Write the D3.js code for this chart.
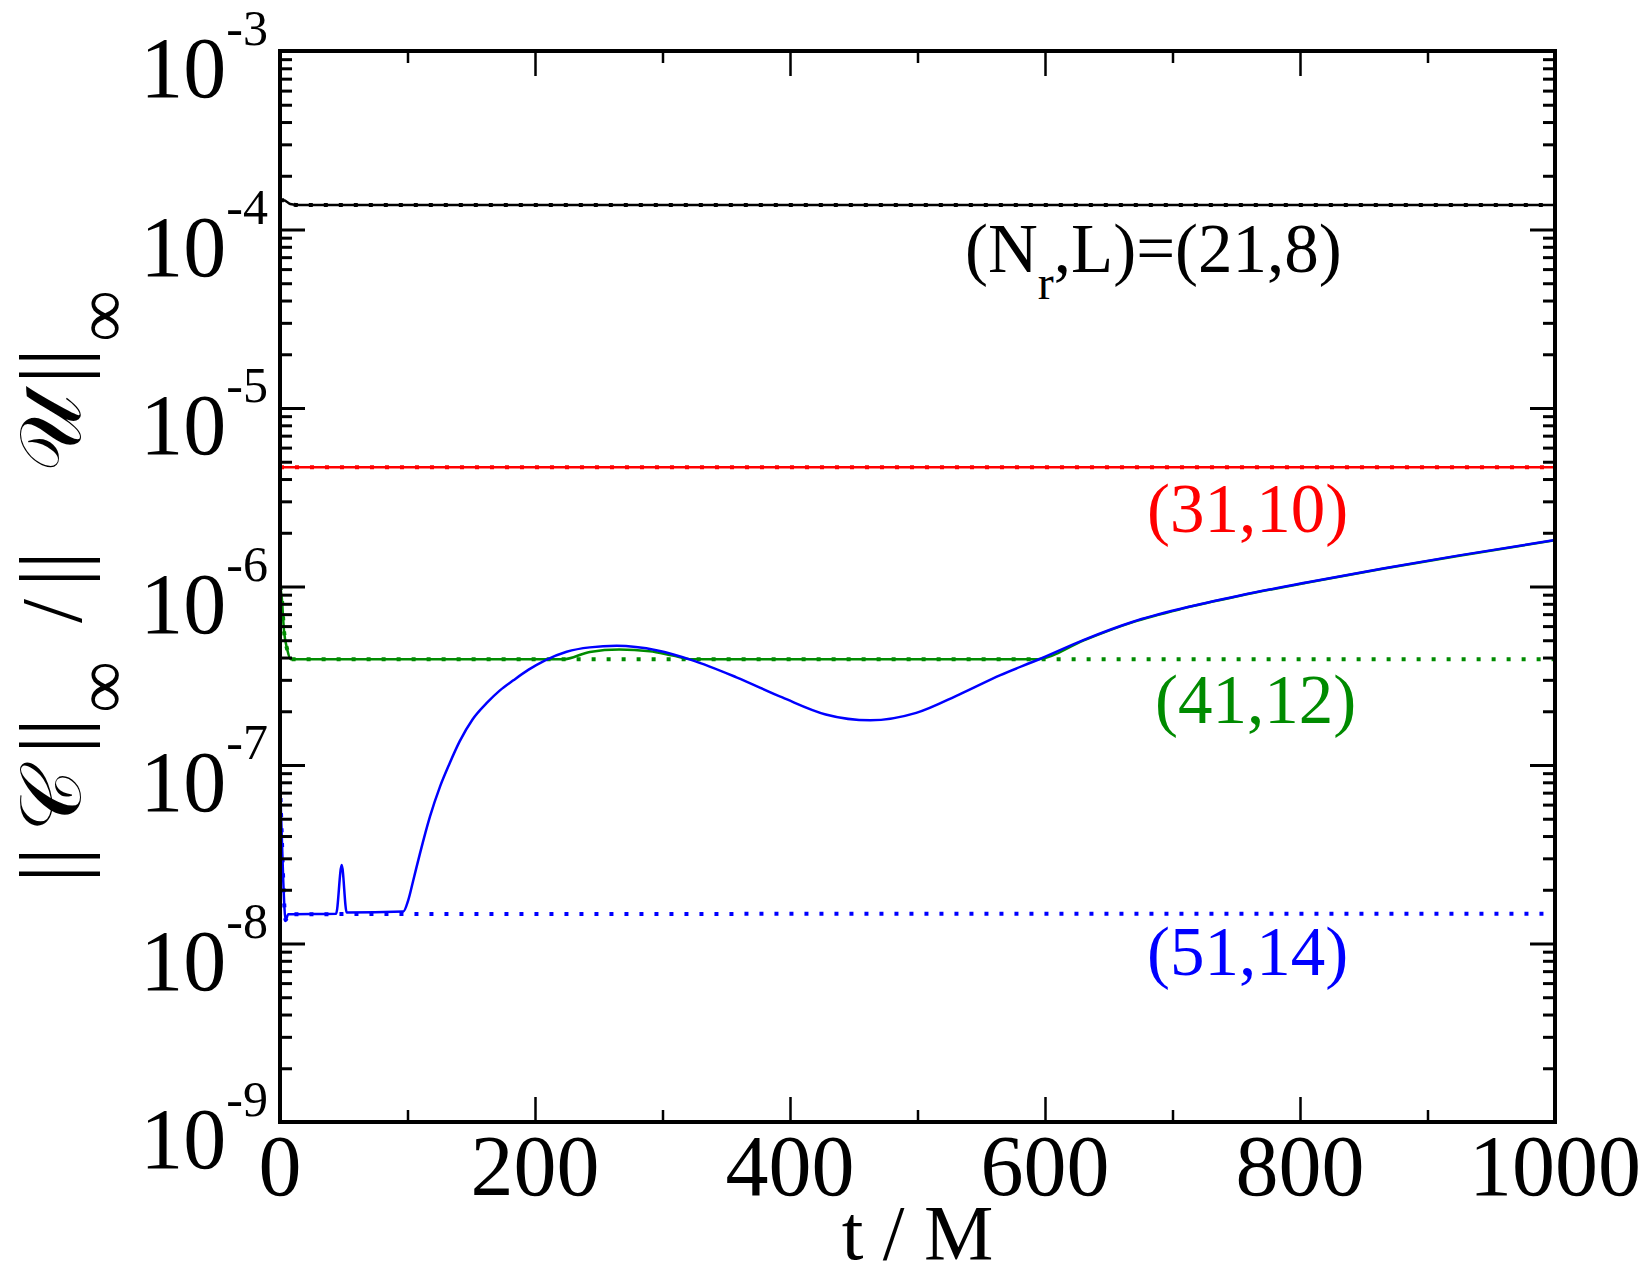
<!DOCTYPE html>
<html>
<head>
<meta charset="utf-8">
<title>constraint norm</title>
<style>
    body { margin: 0; background: #fff; }
    text { font-family: "Liberation Serif", "Times New Roman", serif; }
</style>
<script src="https://d3js.org/d3.v7.min.js"></script>
</head>
<body>
<script>

    // ---- data (t in M, value of the norm) ----
    let xMajor = [0, 200, 400, 600, 800, 1000];
    let xMinor = [100, 300, 500, 700, 900];
    let yExponents = [-9, -8, -7, -6, -5, -4, -3];

    let blackSolid = [[0, 1.46e-4], [3, 1.46e-4], [8, 1.39e-4], [15, 1.37e-4], [1000, 1.37e-4]];
    let blackDotted = [[0, 1.46e-4], [3, 1.46e-4], [8, 1.39e-4], [15, 1.37e-4], [1000, 1.37e-4]];

    let redSolid = [[0, 4.65e-6], [1000, 4.65e-6]];
    let redDotted = [[0, 4.65e-6], [1000, 4.65e-6]];

    let greenSolid = [[0, 1.0e-6], [1.3, 8.8e-7], [3.1, 5.7e-7], [5.8, 4.4e-7], [8.4, 3.91e-7],
        [222, 3.91e-7], [243, 4.3e-7], [266, 4.43e-7], [290, 4.34e-7],
        [308, 4.1e-7], [323, 3.91e-7], [593, 3.91e-7], [596, 3.92e-7], [630, 4.98e-7],
        [669, 6.32e-7], [708, 7.52e-7], [753, 8.87e-7], [805, 1.05e-6], [865, 1.257e-6],
        [925, 1.488e-6], [1000, 1.815e-6]];
    let greenDotted = [[0, 1.0e-6], [1.3, 8.8e-7], [3.1, 5.7e-7], [5.8, 4.4e-7], [8.4, 3.91e-7], [1000, 3.91e-7]];

    let blueSolid = [[0, 7.9e-8], [1.3, 4.2e-8], [2.6, 2.2e-8], [4.4, 1.35e-8], [6.5, 1.46e-8],
        [44, 1.47e-8], [48.4, 2.75e-8], [52.3, 1.49e-8], [96.7, 1.51e-8], [100.6, 1.75e-8],
        [104.6, 2.27e-8], [109.8, 3.2e-8], [117.6, 5.14e-8], [125.5, 7.57e-8], [133, 1.02e-7],
        [141, 1.36e-7], [151, 1.8e-7], [162, 2.22e-7], [172.5, 2.62e-7], [183, 2.98e-7],
        [195, 3.42e-7], [208, 3.86e-7], [224.8, 4.31e-7], [243, 4.56e-7], [264, 4.65e-7],
        [296, 4.38e-7], [323, 3.87e-7], [358, 3.1e-7], [394, 2.39e-7], [428, 1.92e-7],
        [463, 1.78e-7], [499, 1.96e-7], [533, 2.49e-7], [565, 3.19e-7], [595, 3.9e-7],
        [630, 5.01e-7], [669, 6.35e-7], [708, 7.55e-7], [753, 8.91e-7], [805, 1.054e-6],
        [865, 1.262e-6], [925, 1.494e-6], [1000, 1.82e-6]];
    let blueDotted = [[0, 7.9e-8], [1.3, 4.2e-8], [2.6, 2.2e-8], [4.4, 1.35e-8], [6.5, 1.46e-8], [1000, 1.47e-8]];

    let seriesLabels = ["(31,10)", "(41,12)", "(51,14)"];

    // ---- layout ----
    let width = 1650,
        height = 1275,
        margin = {"top": 51, "left": 280, "bottom": 153, "right": 95};

    let svg = d3.select("body").append("svg")
        .attr("width", width)
        .attr("height", height)

    let x = d3.scaleLinear()
        .domain([0, 1000])
        .range([margin.left, width - margin.right])

    let y = d3.scaleLog()
        .domain([1e-9, 1e-3])
        .range([height - margin.bottom, margin.top])

    let yMinor = [];
    yExponents.slice(0, -1).forEach(e => {
        for (let k = 2; k <= 9; k++) yMinor.push(k * Math.pow(10, e));
    });
    let yMajor = yExponents.map(e => Math.pow(10, e));

    svg.append("clipPath").attr("id", "plot")
        .append("rect")
        .attr("x", margin.left).attr("y", margin.top)
        .attr("width", x(1000) - x(0)).attr("height", y(1e-9) - y(1e-3))

    // lines
    let line = d3.line()
        .x(d => x(d[0]))
        .y(d => y(d[1]))
        .curve(d3.curveMonotoneX)

    let lines = [
        {data: blackSolid, color: "#000000", dotted: false},
        {data: blackDotted, color: "#000000", dotted: true},
        {data: redSolid, color: "#ff0000", dotted: false},
        {data: redDotted, color: "#ff0000", dotted: true},
        {data: greenSolid, color: "#008b00", dotted: false},
        {data: greenDotted, color: "#008b00", dotted: true},
        {data: blueSolid, color: "#0000ff", dotted: false},
        {data: blueDotted, color: "#0000ff", dotted: true}
    ];

    svg.append("g")
        .attr("clip-path", "url(#plot)")
        .selectAll("path")
        .data(lines)
        .join("path")
            .attr("d", d => line(d.data))
            .attr("fill", "none")
            .attr("stroke", d => d.color)
            .attr("stroke-width", d => d.dotted ? 4 : 2.5)
            .attr("stroke-dasharray", d => d.dotted ? "4 11" : null)

    // ticks (inward, on all four sides)
    function ticks(axis, values, size, transform, sw) {
        let g = svg.append("g")
            .attr("transform", transform)
            .call(axis.tickValues(values).tickSize(-size).tickFormat(""))
        g.select(".domain").remove()
        g.selectAll("line").attr("stroke", "#000").attr("stroke-width", sw)
    }
    let bottomY = y(1e-9), topY = y(1e-3);
    ticks(d3.axisBottom(x), xMajor, 25, `translate(0,${bottomY})`, 2.5)
    ticks(d3.axisBottom(x), xMinor, 12, `translate(0,${bottomY})`, 2.5)
    ticks(d3.axisTop(x), xMajor, 25, `translate(0,${topY})`, 2.5)
    ticks(d3.axisTop(x), xMinor, 12, `translate(0,${topY})`, 2.5)
    ticks(d3.axisLeft(y), yMajor, 25, `translate(${x(0)},0)`, 3)
    ticks(d3.axisLeft(y), yMinor, 12, `translate(${x(0)},0)`, 3)
    ticks(d3.axisRight(y), yMajor, 25, `translate(${x(1000)},0)`, 3)
    ticks(d3.axisRight(y), yMinor, 12, `translate(${x(1000)},0)`, 3)

    // frame
    svg.append("rect")
        .attr("x", x(0)).attr("y", topY)
        .attr("width", x(1000) - x(0)).attr("height", bottomY - topY)
        .attr("fill", "none").attr("stroke", "#000").attr("stroke-width", 4)

    // tick labels
    svg.append("g").selectAll("text")
        .data(xMajor)
        .join("text")
            .attr("x", d => x(d))
            .attr("y", 1195)
            .attr("text-anchor", "middle")
            .attr("font-size", 86)
            .text(d => d)

    let yLab = svg.append("g").selectAll("text")
        .data(yExponents)
        .join("text")
            .attr("x", 268)
            .attr("y", d => y(Math.pow(10, d)) + 46)
            .attr("text-anchor", "end")
            .attr("font-size", 86)
    yLab.append("tspan").text("10")
    yLab.append("tspan").attr("font-size", 50).attr("dy", -52).text(d => "-" + (-d))

    // axis titles
    svg.append("text")
        .attr("x", (x(0) + x(1000)) / 2)
        .attr("y", 1259)
        .attr("text-anchor", "middle")
        .attr("font-size", 78)
        .text("t / M")

    let yTitle = svg.append("g").attr("transform", "rotate(-90)");
    let pieces = [
        {s: "||", c: 865, b: 81, f: 88},
        {s: "\u{1D49E}", c: 800, b: 80, f: 86},
        {s: "||", c: 736, b: 81, f: 88},
        {s: "\u221E", c: 687, b: 102, f: 72, sub: true},
        {s: "/", c: 611, b: 81, f: 86},
        {s: "||", c: 569, b: 81, f: 88},
        {s: "\u{1D4B0}", c: 433, b: 80, f: 86},
        {s: "||", c: 366, b: 81, f: 88},
        {s: "\u221E", c: 316, b: 102, f: 72, sub: true}
    ];
    yTitle.selectAll("text")
        .data(pieces)
        .join("text")
            .attr("x", d => -d.c)
            .attr("y", d => d.b)
            .attr("text-anchor", "middle")
            .attr("dominant-baseline", d => d.sub ? "central" : null)
            .attr("font-size", d => d.f)
            .text(d => d.s)

    // curve labels
    let nrLabel = svg.append("text")
        .attr("x", 965).attr("y", 272)
        .attr("font-size", 69)
        .attr("fill", "#000")
    nrLabel.append("tspan").text("(N")
    nrLabel.append("tspan").attr("font-size", 48).attr("dy", 27).text("r")
    nrLabel.append("tspan").attr("dy", -27).text(",L)=(21,8)")

    let labelPos = [[1147, 532, "#ff0000"], [1155, 723, "#008b00"], [1147, 975, "#0000ff"]];
    svg.append("g").selectAll("text")
        .data(seriesLabels)
        .join("text")
            .attr("x", (d, i) => labelPos[i][0])
            .attr("y", (d, i) => labelPos[i][1])
            .attr("font-size", 69)
            .attr("fill", (d, i) => labelPos[i][2])
            .text(d => d)

</script>
</body>
</html>
